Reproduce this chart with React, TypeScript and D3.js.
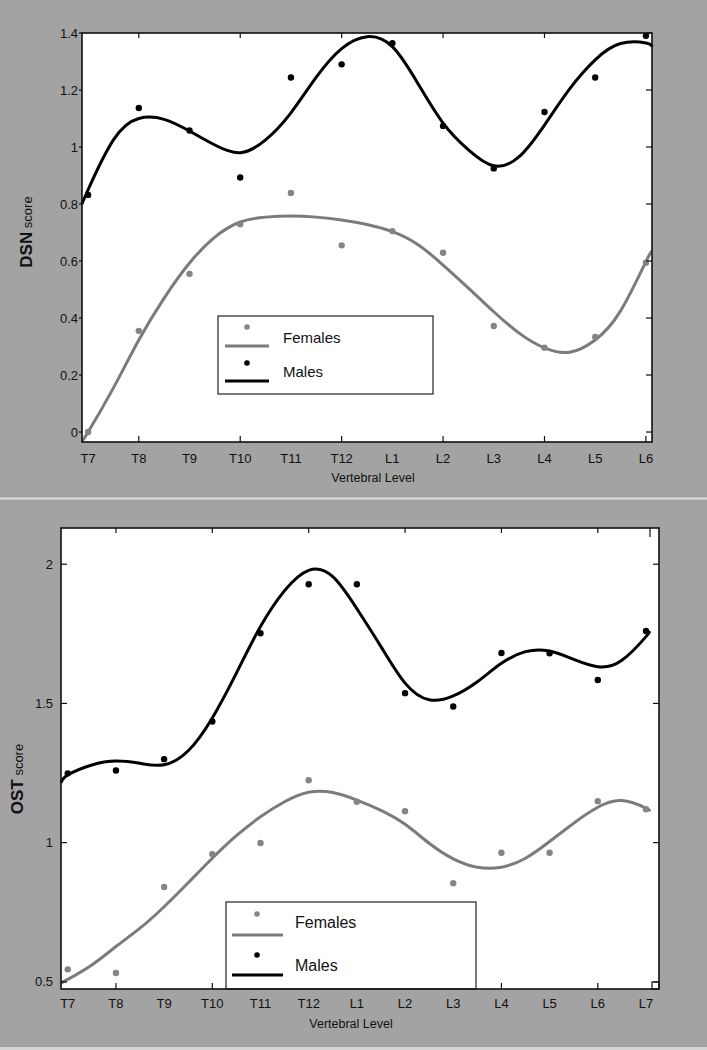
import React from "react";
import * as d3 from "d3";

const FONT = "'Liberation Sans', Arial, Helvetica, sans-serif";

// DSN panel (top)
const dsnLevels = ["T7", "T8", "T9", "T10", "T11", "T12", "L1", "L2", "L3", "L4", "L5", "L6"];
const dsnFemales = [0.0, 0.355, 0.555, 0.729, 0.839, 0.655, 0.705, 0.629, 0.372, 0.296, 0.334, 0.594];
const dsnMales = [0.832, 1.137, 1.058, 0.893, 1.244, 1.29, 1.364, 1.074, 0.925, 1.123, 1.244, 1.39];
// smoothed fit, sampled at level positions
const dsnFitAt = [-0.12, 0, 0.5, 1, 1.5, 2, 2.5, 3, 3.5, 4, 4.5, 5, 5.5, 6, 6.5, 7, 7.5, 8, 8.5, 9, 9.5, 10, 10.5, 11, 11.12];
const dsnFemaleFit = [-0.03, 0.0, 0.155, 0.323, 0.47, 0.593, 0.684, 0.737, 0.754, 0.758, 0.754, 0.744, 0.728, 0.703, 0.658, 0.586, 0.505, 0.422, 0.347, 0.295, 0.28, 0.323, 0.425, 0.598, 0.632];
const dsnMaleFit = [0.8, 0.85, 1.025, 1.1, 1.097, 1.056, 1.007, 0.98, 1.025, 1.12, 1.245, 1.345, 1.387, 1.352, 1.224, 1.084, 0.99, 0.934, 0.966, 1.077, 1.205, 1.306, 1.363, 1.365, 1.352];
const dsnTicks = [0, 0.2, 0.4, 0.6, 0.8, 1, 1.2, 1.4];

// OST panel (bottom)
const ostLevels = ["T7", "T8", "T9", "T10", "T11", "T12", "L1", "L2", "L3", "L4", "L5", "L6", "L7"];
const ostFemales = [0.545, 0.532, 0.841, 0.959, 0.999, 1.224, 1.147, 1.113, 0.854, 0.964, 0.964, 1.149, 1.12];
const ostMales = [1.249, 1.259, 1.3, 1.435, 1.752, 1.928, 1.928, 1.537, 1.489, 1.681, 1.68, 1.584, 1.76];
const ostFitAt = [-0.14, 0, 0.5, 1, 1.5, 2, 2.5, 3, 3.5, 4, 4.5, 5, 5.5, 6, 6.5, 7, 7.5, 8, 8.5, 9, 9.5, 10, 10.5, 11, 11.5, 12, 12.05];
const ostFemaleFit = [0.496, 0.509, 0.561, 0.627, 0.693, 0.77, 0.856, 0.944, 1.025, 1.093, 1.147, 1.181, 1.18, 1.153, 1.116, 1.066, 0.998, 0.942, 0.912, 0.912, 0.944, 1.004, 1.07, 1.127, 1.151, 1.124, 1.117];
const ostMaleFit = [1.215, 1.243, 1.279, 1.293, 1.285, 1.28, 1.33, 1.448, 1.609, 1.776, 1.905, 1.978, 1.955, 1.84, 1.704, 1.573, 1.513, 1.527, 1.578, 1.644, 1.686, 1.688, 1.658, 1.632, 1.655, 1.74, 1.753];
const ostTicks = [0.5, 1, 1.5, 2];

const FEMALE = "#7b7b7b";
const FEMALE_DOT = "#858585";
const INK = "#111";

type Legend = { x: number; y: number; w: number; h: number; size: number; rows: number[]; lineX: [number, number]; dotX: number; textX: number };

type PanelProps = {
  levels: string[];
  females: number[];
  males: number[];
  fitAt: number[];
  femaleFit: number[];
  maleFit: number[];
  xDomain: [number, number];
  yDomain: [number, number];
  yTicks: number[];
  box: { x0: number; x1: number; y0: number; y1: number };
  leftTick: number;
  labelGap: number;
  xLabelY: number;
  titleX: number;
  titleY: number;
  yTitle: [string, string];
  yTitleX: number;
  yTitleY: number;
  legend: Legend;
  corners?: boolean;
};

function Panel(p: PanelProps) {
  const { box } = p;
  const x = d3.scaleLinear().domain(p.xDomain).range([box.x0, box.x1]);
  const y = d3.scaleLinear().domain(p.yDomain).range([box.y1, box.y0]);
  const line = d3
    .line<number>()
    .x((_, i) => x(p.fitAt[i]))
    .y((d) => y(d))
    .curve(d3.curveNatural);
  const majors = p.levels.map((_, i) => i).filter((i) => i % 2 === 1);
  const L = p.legend;

  return (
    <g fontFamily={FONT}>
      <rect x={box.x0} y={box.y0} width={box.x1 - box.x0} height={box.y1 - box.y0} fill="#fff" />
      <path d={line(p.femaleFit) || ""} fill="none" stroke={FEMALE} strokeWidth={3} />
      <path d={line(p.maleFit) || ""} fill="none" stroke="#000" strokeWidth={3} />
      {p.females.map((d, i) => (
        <circle key={"f" + i} cx={x(i)} cy={y(d)} r={3.2} fill={FEMALE_DOT} />
      ))}
      {p.males.map((d, i) => (
        <circle key={"m" + i} cx={x(i)} cy={y(d)} r={3.2} fill="#000" />
      ))}

      {/* axis ticks */}
      {majors.map((i) => (
        <g key={"t" + i} stroke={INK} strokeWidth={1.2}>
          <line x1={x(i)} x2={x(i)} y1={box.y0} y2={box.y0 + 5} />
          <line x1={x(i)} x2={x(i)} y1={box.y1} y2={box.y1 - 6} />
        </g>
      ))}
      {p.yTicks.map((t) => (
        <g key={"y" + t}>
          <line x1={box.x0} x2={box.x0 + p.leftTick} y1={y(t)} y2={y(t)} stroke={INK} strokeWidth={1.2} />
          <line x1={box.x1} x2={box.x1 - 6} y1={y(t)} y2={y(t)} stroke={INK} strokeWidth={1.2} />
          <text x={box.x0 - p.labelGap} y={y(t)} dy="0.35em" textAnchor="end" fontSize={13} fill={INK}>
            {String(+t.toFixed(1))}
          </text>
        </g>
      ))}

      {/* legend */}
      <rect x={L.x} y={L.y} width={L.w} height={L.h} fill="#fff" stroke="#222" strokeWidth={1.2} />
      {[
        { name: "Females", dot: FEMALE_DOT, stroke: FEMALE },
        { name: "Males", dot: "#000", stroke: "#000" },
      ].map((s, k) => (
        <g key={s.name}>
          <circle cx={L.dotX} cy={L.rows[k * 3]} r={2.8} fill={s.dot} />
          <line x1={L.lineX[0]} x2={L.lineX[1]} y1={L.rows[k * 3 + 1]} y2={L.rows[k * 3 + 1]} stroke={s.stroke} strokeWidth={3.2} />
          <text x={L.textX} y={L.rows[k * 3 + 2]} fontSize={L.size} fill={INK}>
            {s.name}
          </text>
        </g>
      ))}

      {/* frame */}
      <rect x={box.x0} y={box.y0} width={box.x1 - box.x0} height={box.y1 - box.y0} fill="none" stroke={INK} strokeWidth={1.6} />
      {p.corners && (
        <g fill="none" stroke={INK} strokeWidth={1.2}>
          <rect x={box.x1 - 7} y={box.y1 - 7} width={7} height={7} />
          <line x1={box.x1 - 9} x2={box.x1 - 9} y1={box.y0} y2={box.y0 + 9} />
        </g>
      )}

      {p.levels.map((lv, i) => (
        <text key={lv} x={x(i)} y={p.xLabelY} textAnchor="middle" fontSize={13} fill={INK}>
          {lv}
        </text>
      ))}
      <text x={p.titleX} y={p.titleY} textAnchor="middle" fontSize={12.5} fill={INK}>
        Vertebral Level
      </text>
      <text transform={`translate(${p.yTitleX},${p.yTitleY}) rotate(-90)`} textAnchor="middle" fill={INK}>
        <tspan fontSize={17} fontWeight="bold">{p.yTitle[0]}</tspan>
        <tspan fontSize={13}> {p.yTitle[1]}</tspan>
      </text>
    </g>
  );
}

export default function App() {
  return (
    <svg width={707} height={1050} style={{ position: "absolute", left: 0, top: 0, display: "block" }}>
      <rect width={707} height={1050} fill="#a3a3a3" />
      <line x1={0} x2={707} y1={498.5} y2={498.5} stroke="#dedede" strokeWidth={2} />
      <rect x={0} y={1047} width={707} height={3} fill="#d6d6d6" />
      <Panel
        levels={dsnLevels}
        females={dsnFemales}
        males={dsnMales}
        fitAt={dsnFitAt}
        femaleFit={dsnFemaleFit}
        maleFit={dsnMaleFit}
        xDomain={[-0.12, 11.12]}
        yDomain={[-0.035, 1.4]}
        yTicks={dsnTicks}
        box={{ x0: 82, x1: 652, y0: 33, y1: 442 }}
        leftTick={-3}
        labelGap={4}
        xLabelY={463}
        titleX={373}
        titleY={482}
        yTitle={["DSN", "score"]}
        yTitleX={32}
        yTitleY={232}
        legend={{ x: 218, y: 316, w: 215, h: 78, size: 15, rows: [327, 346, 343, 363, 381, 377], lineX: [225, 269], dotX: 247, textX: 283 }}
      />
      <Panel
        levels={ostLevels}
        females={ostFemales}
        males={ostMales}
        fitAt={ostFitAt}
        femaleFit={ostFemaleFit}
        maleFit={ostMaleFit}
        xDomain={[-0.14, 12.27]}
        yDomain={[0.4745, 2.13]}
        yTicks={ostTicks}
        box={{ x0: 61, x1: 659, y0: 528, y1: 989 }}
        leftTick={6}
        labelGap={8}
        xLabelY={1008}
        titleX={351}
        titleY={1028}
        yTitle={["OST", "score"]}
        yTitleX={23}
        yTitleY={779}
        legend={{ x: 226, y: 902, w: 250, h: 87, size: 16, rows: [914, 935, 928, 955, 975, 971], lineX: [232, 283], dotX: 257, textX: 295 }}
        corners
      />
    </svg>
  );
}
